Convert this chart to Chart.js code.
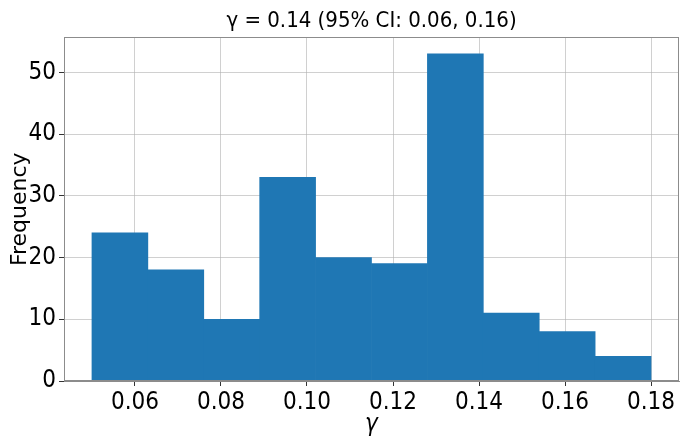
<!DOCTYPE html>
<html>
<head>
<meta charset="utf-8">
<script src="https://cdn.jsdelivr.net/npm/chart.js@4.4.1/dist/chart.umd.min.js"></script>
<style>
  html, body { margin: 0; padding: 0; background: #fff; }
  #wrap { position: relative; width: 681px; height: 445px; }
</style>
</head>
<body>
<div id="wrap"><canvas id="c" width="681" height="445"></canvas></div>
<script>
// histogram of gamma: 10 equal bins between 0.05 and 0.18
var binEdges = [0.05, 0.063, 0.076, 0.089, 0.102, 0.115, 0.128, 0.141, 0.154, 0.167, 0.18];
var counts   = [24, 18, 10, 33, 20, 19, 53, 11, 8, 4];
var xTicks   = [0.06, 0.08, 0.10, 0.12, 0.14, 0.16, 0.18];
var yTicks   = [0, 10, 20, 30, 40, 50];
var titleText = "\u03b3 = 0.14 (95% CI: 0.06, 0.16)";

var FONT = "'DejaVu Sans Condensed', 'DejaVu Sans', sans-serif";
var FONT_WIDE = "'DejaVu Sans', sans-serif";
var BAR = "#1f77b4";
var GRID = "rgba(176,176,176,0.6)";
var SPINE = "#8c8c8c";

var points = counts.map(function (c, i) {
  return { x: (binEdges[i] + binEdges[i + 1]) / 2, y: c };
});

// matplotlib-style 5% margins around the data range
var span = binEdges[binEdges.length - 1] - binEdges[0];
var xMin = binEdges[0] - 0.05 * span;
var xMax = binEdges[binEdges.length - 1] + 0.05 * span;
var yMax = Math.max.apply(null, counts) * 1.05;

/* full box around the plot, like the matplotlib spines */
var boxPlugin = {
  id: "box",
  afterDraw: function (chart) {
    var a = chart.chartArea, ctx = chart.ctx;
    ctx.save();
    ctx.strokeStyle = SPINE;
    ctx.lineWidth = 1;
    ctx.strokeRect(Math.round(a.left) + 0.5, Math.round(a.top) + 0.5,
                   Math.round(a.right - a.left) - 1, Math.round(a.bottom - a.top) - 1);
    ctx.restore();
  }
};

new Chart(document.getElementById("c"), {
  type: "bar",
  data: {
    datasets: [{
      label: "Frequency",
      data: points,
      backgroundColor: BAR,
      borderWidth: 0,
      barPercentage: 1.0,
      categoryPercentage: 1.0
    }]
  },
  options: {
    responsive: false,
    animation: false,
    layout: { padding: { left: 0, right: 2, top: 0, bottom: 0 } },
    plugins: {
      legend: { display: false },
      tooltip: { enabled: false },
      title: {
        display: true,
        fullSize: false,          // centre over the plot area, like matplotlib
        text: titleText,
        color: "#000",
        font: { family: FONT, size: 22, weight: "normal" },
        padding: { top: 8, bottom: 3 }
      }
    },
    scales: {
      x: {
        type: "linear",
        min: xMin, max: xMax,
        offset: false,
        z: 1,
        afterBuildTicks: function (s) { s.ticks = xTicks.map(function (v) { return { value: v }; }); },
        afterFit: function (s) { s.height = 64; },
        grid: { color: GRID, tickColor: "#333", tickLength: 5, lineWidth: 1, offset: false },
        border: { color: SPINE },
        ticks: {
          color: "#000", padding: 2, maxRotation: 0,
          font: { family: FONT, size: 24 },
          callback: function (v) { return v.toFixed(2); }
        },
        title: {
          display: true, text: "\u03b3", color: "#000",
          font: { family: FONT, size: 24, style: "italic" },
          padding: { top: 0, bottom: 6 }
        }
      },
      y: {
        min: 0, max: yMax,
        z: 1,
        afterBuildTicks: function (s) { s.ticks = yTicks.map(function (v) { return { value: v }; }); },
        afterFit: function (s) { s.width = 64; },
        grid: { color: GRID, tickColor: "#333", tickLength: 5, lineWidth: 1 },
        border: { color: SPINE },
        ticks: {
          color: "#000", padding: 3,
          font: { family: FONT, size: 24 }
        },
        title: {
          display: true, text: "Frequency", color: "#000",
          font: { family: FONT_WIDE, size: 22 },
          padding: { top: 7, bottom: 0 }
        }
      }
    }
  },
  plugins: [boxPlugin]
});
</script>
</body>
</html>
